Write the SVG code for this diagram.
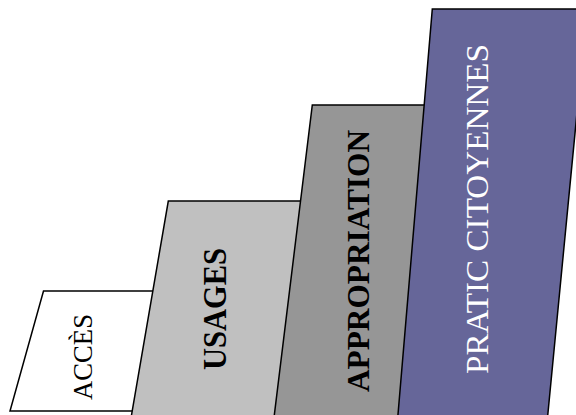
<svg xmlns="http://www.w3.org/2000/svg" width="576" height="415" viewBox="0 0 576 415">
  <style>
    .step { stroke: #000; stroke-width: 1.5; stroke-linejoin: miter; }
    .lbl { font-family: "Liberation Serif", "Times New Roman", serif; text-anchor: middle; }
    .bold { font-weight: bold; }
  </style>
  <rect width="576" height="415" fill="#fff"/>

  <!-- staircase of slanted steps, each drawn over the previous one -->
  <g id="acces">
    <polygon class="step" fill="#ffffff" points="43.5,291 160,291 140,411 10,411"/>
    <text class="lbl" font-size="27" fill="#000" textLength="86" lengthAdjust="spacingAndGlyphs" transform="translate(92,357) rotate(-90)">ACCÈS</text>
  </g>

  <g id="usages">
    <polygon class="step" fill="#c0c0c0" points="168.3,201 320,201 295,425 129.8,425"/>
    <text class="lbl bold" font-size="34" fill="#000" textLength="122" lengthAdjust="spacingAndGlyphs" transform="translate(226,309) rotate(-90)">USAGES</text>
  </g>

  <g id="appropriation">
    <polygon class="step" fill="#969696" points="312.3,105 440,105 410,425 273.1,425"/>
    <text class="lbl bold" font-size="32" fill="#000" textLength="262" lengthAdjust="spacingAndGlyphs" transform="translate(369,261) rotate(-90)">APPROPRIATION</text>
  </g>

  <g id="pratiques">
    <polygon class="step" fill="#666699" points="432.3,9 587,9 546.8,425 397.1,425"/>
    <text class="lbl" font-size="31.5" fill="#fff" textLength="330" lengthAdjust="spacingAndGlyphs" transform="translate(488.3,209) rotate(-90)">PRATIC CITOYENNES</text>
  </g>

  <g id="connectors"/>
</svg>
